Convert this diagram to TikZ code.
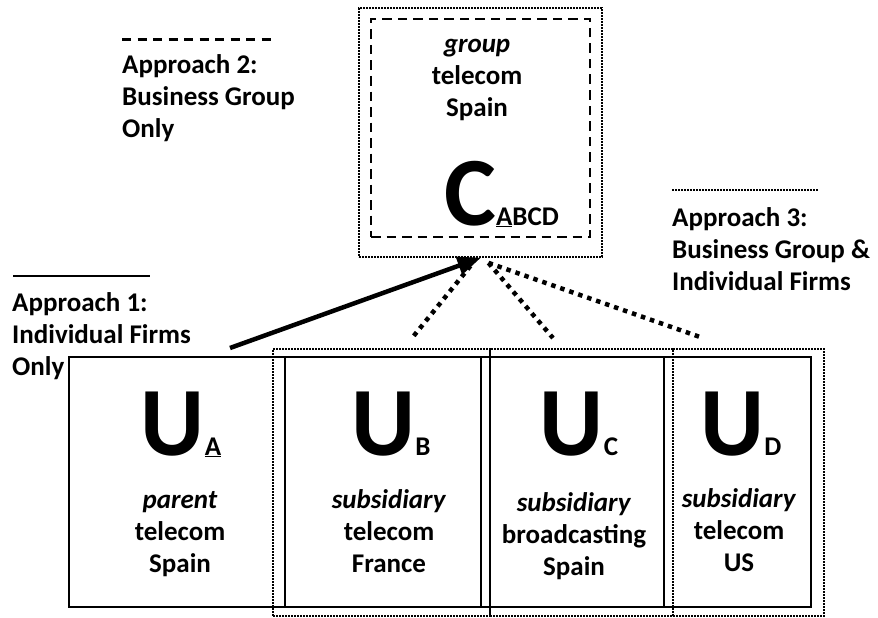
\documentclass[tikz,border=0pt]{standalone}
\usepackage{fontspec}
\setmainfont{Carlito}
\usetikzlibrary{arrows}

\begin{document}
\begin{tikzpicture}[x=1pt,y=-1pt]
    \tikzset{firm/.style = {shape=rectangle, draw, line width=2.2pt, minimum height=250pt, inner sep=0}}
    \tikzset{fgroup/.style = {shape=rectangle, draw, line width=1.8pt, dash pattern=on 1.6pt off 1.4pt, minimum height=267pt, inner sep=0}}
    \tikzset{grp/.style = {shape=rectangle, draw, line width=2.8pt, dash pattern=on 9.5pt off 6pt, inner sep=0}}
    \tikzset{txt/.style = {font=\fontsize{27}{32}\selectfont\bfseries, align=center, inner sep=0}}
    \tikzset{big/.style = {font=\fontsize{98}{98}\selectfont\bfseries, inner sep=0}}
    \tikzset{solidlink/.style = {draw, line width=4.5pt, -triangle 45}}
    \tikzset{dotlink/.style = {draw, line width=4.5pt, dash pattern=on 4.5pt off 5pt}}
    \useasboundingbox (0,0) rectangle (878,618);

    % group box
    \node[fgroup, minimum width=243pt, minimum height=249pt] (cout) at (480.5,132.5) {};
    \node[grp, minimum width=219pt, minimum height=218pt] (cgrp) at (480.5,128) {};
    \node[txt, anchor=base] (cdesc) at (477,116) {\textit{group}\\telecom\\Spain};
    \node[big, anchor=base west] (cname) at (444,225) {C{\fontsize{27}{32}\selectfont\underline{A}BCD}};

    % firm boxes
    \node[firm, minimum width=216pt] (uA) at (177,482) {};
    \node[firm, minimum width=196pt] (uB) at (383,482) {};
    \node[firm, minimum width=183pt] (uC) at (572.5,482) {};
    \node[firm, minimum width=147pt] (uD) at (737.5,482) {};
    \node[fgroup, minimum width=217pt] (gB) at (381.5,482.5) {};
    \node[fgroup, minimum width=183pt] (gC) at (581.5,482.5) {};
    \node[fgroup, minimum width=151pt] (gD) at (748.5,482.5) {};

    % firm labels
    \node[big, anchor=base] (nA) at (181,455) {U{\fontsize{27}{32}\selectfont\underline{A}}};
    \node[big, anchor=base] (nB) at (391,455) {U{\fontsize{27}{32}\selectfont B}};
    \node[big, anchor=base] (nC) at (579,455) {U{\fontsize{27}{32}\selectfont C}};
    \node[big, anchor=base] (nD) at (741,455) {U{\fontsize{27}{32}\selectfont D}};
    \node[txt, anchor=base] (dA) at (180,572) {\textit{parent}\\telecom\\Spain};
    \node[txt, anchor=base] (dB) at (389,572) {\textit{subsidiary}\\telecom\\France};
    \node[txt, anchor=base] (dC) at (574,575) {\textit{subsidiary}\\broadcasting\\Spain};
    \node[txt, anchor=base] (dD) at (739,571) {\textit{subsidiary}\\telecom\\US};

    % legend
    \node[txt, align=left, anchor=base west] (leg1) at (12,375) {Approach 1:\\Individual Firms\\Only};
    \node[txt, align=left, anchor=base west] (leg2) at (122,137) {Approach 2:\\Business Group\\Only};
    \node[txt, align=left, anchor=base west] (leg3) at (672,290) {Approach 3:\\Business Group \&\\Individual Firms};
    \draw[line width=2pt] (13,276) -- (150,276);
    \draw[line width=3pt, dash pattern=on 9pt off 6.5pt] (122,40) -- (273,40);
    \draw[line width=1.8pt, dash pattern=on 1.6pt off 1.4pt] (672,190) -- (818,190);

    % edges
    \coordinate (pA) at (230,348);
    \coordinate (pB) at (412,338);
    \coordinate (pC) at (553,338);
    \coordinate (pD) at (700,337);
    \draw[solidlink] (pA) -- (cout.south);
    \draw[dotlink] ([xshift=-10pt,yshift=-8pt]cout.south) -- (pB);
    \draw[dotlink] ([xshift=8pt,yshift=-5pt]cout.south) -- (pC);
    \draw[dotlink] ([xshift=8pt,yshift=-5pt]cout.south) -- (pD);
\end{tikzpicture}
\end{document}
